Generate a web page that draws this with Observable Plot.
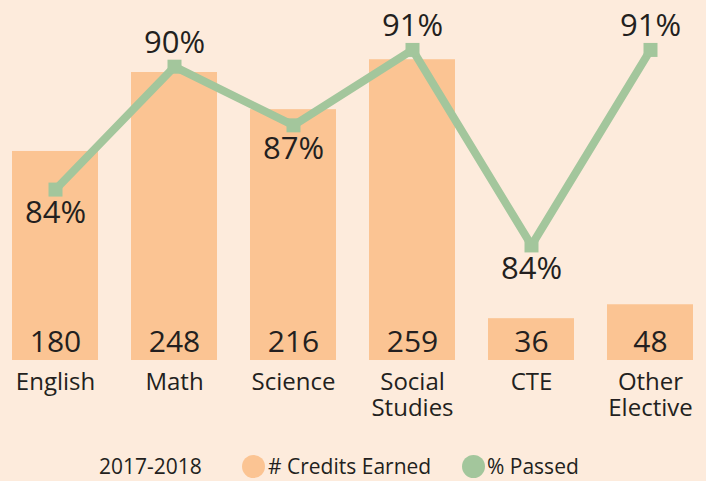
<!DOCTYPE html>
<html>
<head>
<meta charset="utf-8">
<script src="https://cdn.jsdelivr.net/npm/d3@7"></script>
<script src="https://cdn.jsdelivr.net/npm/@observablehq/plot@0.6"></script>
<style>
  html, body { margin: 0; padding: 0; background: #FDEBDC; }
  #wrap { position: relative; width: 706px; height: 481px; overflow: hidden; font-family: "Open Sans", sans-serif; color: #231F20; }
  #wrap svg { position: absolute; left: 0; top: 0; background: transparent; }
  #legend { position: absolute; left: 0; top: 440px; width: 706px; height: 41px; font-size: 21px; }
  #legend span { position: absolute; top: 13px; line-height: 26px; white-space: nowrap; }
  #legend .sw { width: 23px; height: 23px; border-radius: 50%; top: 15px; }
</style>
</head>
<body>
<div id="wrap"><div id="legend"></div></div>
<script>
const subjects = ["English", "Math", "Science", "Social\nStudies", "CTE", "Other\nElective"];
const credits = [180, 248, 216, 259, 36, 48];
const passedLevel = [86.0, 90.4, 88.3, 91.0, 84.0, 91.0];
const passedLabels = ["84%", "90%", "87%", "91%", "84%", "91%"];
const legendYear = "2017-2018";
const seriesNames = ["# Credits Earned", "% Passed"];

const barColor = "#FBC493";
const lineColor = "#A3C69C";
const ink = "#231F20";

const rows = subjects.map((s, i) => ({
  subject: s,
  credits: credits[i],
  level: passedLevel[i],
  label: passedLabels[i],
  above: i === 0 ? passedLevel[0] > passedLevel[1] : passedLevel[i] > passedLevel[i - 1]
}));

const common = {
  width: 706, height: 440,
  marginTop: 0, marginBottom: 80, marginLeft: 0, marginRight: 0,
  style: {background: "transparent", fontFamily: "Open Sans, sans-serif", color: ink},
  x: {type: "band", domain: subjects, paddingInner: 0.275, paddingOuter: 0.08, axis: null}
};

const bars = Plot.plot({
  ...common,
  y: {domain: [0, 310], axis: null},
  marks: [
    Plot.barY(rows, {x: "subject", y: "credits", fill: barColor}),
    Plot.text(rows, {x: "subject", y: 0, text: d => String(d.credits), dy: -18, fontSize: 30, fill: ink}),
    Plot.axisX({tickSize: 0, tickPadding: 10, fontSize: 24, lineHeight: 1.12, fill: ink, label: null})
  ]
});

const line = Plot.plot({
  ...common,
  y: {domain: [79.88, 92.77], axis: null},
  marks: [
    Plot.line(rows, {x: "subject", y: "level", stroke: lineColor, strokeWidth: 8}),
    Plot.dot(rows, {x: "subject", y: "level", symbol: "square", r: 7.9, fill: lineColor, stroke: "none"}),
    Plot.text(rows.filter(d => d.above), {x: "subject", y: "level", text: "label", dy: -24, fontSize: 31, fill: ink}),
    Plot.text(rows.filter(d => !d.above), {x: "subject", y: "level", text: "label", dy: 24, fontSize: 31, fill: ink})
  ]
});

const wrap = document.getElementById("wrap");
wrap.insertBefore(bars, wrap.firstChild);
wrap.insertBefore(line, bars.nextSibling);

const legend = document.getElementById("legend");
const items = [
  {type: "text", text: legendYear, left: 99},
  {type: "sw", color: barColor, left: 242},
  {type: "text", text: seriesNames[0], left: 268},
  {type: "sw", color: lineColor, left: 462},
  {type: "text", text: seriesNames[1], left: 487}
];
for (const it of items) {
  const s = document.createElement("span");
  s.style.left = it.left + "px";
  if (it.type === "sw") { s.className = "sw"; s.style.background = it.color; }
  else s.textContent = it.text;
  legend.appendChild(s);
}
</script>
</body>
</html>
